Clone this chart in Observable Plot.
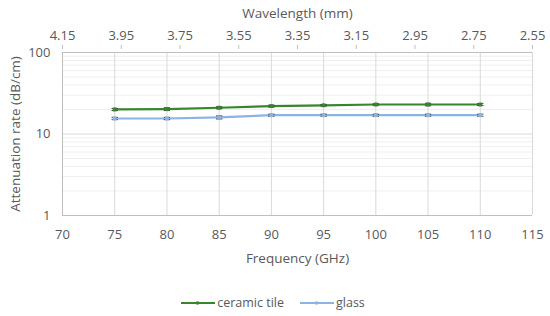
<!DOCTYPE html>
<html><head><meta charset="utf-8">
<script src="https://cdn.jsdelivr.net/npm/d3@7"></script>
<script src="https://cdn.jsdelivr.net/npm/@observablehq/plot@0.6"></script>
<style>
body{margin:0;background:#fff;font-family:"Open Sans",sans-serif;}
#legend{display:flex;justify-content:center;gap:16px;font-size:12.5px;color:#595959;height:31px;align-items:center;margin-left:-4px;margin-top:2px}
#legend span{display:flex;align-items:center;}
</style></head><body>
<div id="chart"></div>
<div id="legend"></div>
<script>
const frequencies = [75, 80, 85, 90, 95, 100, 105, 110];
const ceramicTile = [20, 20.2, 21, 22, 22.5, 23, 23, 23];
const ceramicErr = [0.6, 0.8, 0.6, 0.6, 0.5, 0.5, 0.8, 0.6];
const glass = [15.5, 15.5, 16, 17, 17, 17, 17, 17];
const glassErr = [0.5, 0.5, 0.7, 0.5, 0.5, 0.5, 0.5, 0.5];
const freqTicks = [70, 75, 80, 85, 90, 95, 100, 105, 110, 115];
const wavelengthTicks = [4.15, 3.95, 3.75, 3.55, 3.35, 3.15, 2.95, 2.75, 2.55];
const yMajor = [1, 10, 100];
const yMinor = [2,3,4,5,6,7,8,9,20,30,40,50,60,70,80,90];
const seriesNames = ["ceramic tile", "glass"];
const seriesColors = ["#37862c", "#8db3e2"];

// secondary (wavelength) axis mapped linearly onto frequency range
const wMax = 4.15, wMin = 2.55, fMin = 70, fMax = 115;
const w2f = w => fMin + (wMax - w) * (fMax - fMin) / (wMax - wMin);
const f2w = f => wMax - (f - fMin) * (wMax - wMin) / (fMax - fMin);

const data = [];
frequencies.forEach((f, i) => {
  data.push({series: seriesNames[0], f, v: ceramicTile[i], e: ceramicErr[i]});
  data.push({series: seriesNames[1], f, v: glass[i], e: glassErr[i]});
});

const font = "Open Sans, sans-serif";
const plot = Plot.plot({
  width: 550, height: 285,
  marginLeft: 62, marginRight: 18, marginTop: 52, marginBottom: 70,
  style: {fontFamily: font, fontSize: "12.5px", color: "#595959", background: "#fff"},
  x: {domain: [fMin, fMax], type: "linear"},
  y: {type: "log", domain: [1, 100]},
  color: {domain: seriesNames, range: seriesColors},
  marks: [
    Plot.ruleY(yMinor, {stroke: "#efefef", strokeWidth: 1}),
    Plot.ruleY(yMajor, {stroke: "#d9d9d9", strokeWidth: 1}),
    Plot.ruleX(freqTicks, {stroke: "#d9d9d9", strokeWidth: 1}),
    Plot.ruleX([fMin], {stroke: "#bfbfbf"}),
    Plot.ruleY([1], {stroke: "#bfbfbf"}),
    Plot.ruleY([100], {stroke: "#bfbfbf"}),
    Plot.axisX({ticks: freqTicks, tickSize: 0, tickPadding: 14, label: "Frequency (GHz)", labelAnchor: "center", labelArrow: "none", labelOffset: 47, fontSize: 13, fill: "#595959"}),
    Plot.axisX({anchor: "top", ticks: wavelengthTicks.map(w2f), tickFormat: f => f2w(f).toFixed(2), tickSize: 4, stroke: "#bfbfbf", tickPadding: 5, dy: -4, label: "Wavelength (mm)", labelAnchor: "center", labelArrow: "none", labelOffset: 44, fontSize: 13, fill: "#595959"}),
    Plot.axisY({ticks: yMajor, tickFormat: d => String(d), tickSize: 0, tickPadding: 12, label: "Attenuation rate (dB/cm)", labelAnchor: "center", labelArrow: "none", labelOffset: 52, fontSize: 13, fill: "#595959"}),
    Plot.line(data, {x: "f", y: "v", stroke: "series", strokeWidth: 2.2}),
    Plot.ruleX(data, {x: "f", y1: d => d.v - d.e, y2: d => d.v + d.e, stroke: "#404040", strokeWidth: 1}),
    Plot.link(data, {x1: d => d.f - 0.3, x2: d => d.f + 0.3, y1: d => d.v + d.e, y2: d => d.v + d.e, stroke: "#404040", strokeWidth: 1}),
    Plot.link(data, {x1: d => d.f - 0.3, x2: d => d.f + 0.3, y1: d => d.v - d.e, y2: d => d.v - d.e, stroke: "#404040", strokeWidth: 1}),
    Plot.dot(data, {x: "f", y: "v", fill: "series", symbol: "square", r: 2.2})
  ]
});
plot.querySelectorAll("[aria-label='x-axis label'] text, [aria-label='y-axis label'] text").forEach(t => t.setAttribute("font-size", "13.5px"));
document.getElementById("chart").appendChild(plot);

const legend = document.getElementById("legend");
seriesNames.forEach((name, i) => {
  const s = document.createElement("span");
  s.innerHTML = `<svg width="34" height="8"><line x1="0" y1="4" x2="34" y2="4" stroke="${seriesColors[i]}" stroke-width="2.2"/><rect x="15" y="2.5" width="3" height="3" fill="${seriesColors[i]}"/></svg><span style="margin-left:2px">${name}</span>`;
  legend.appendChild(s);
});
</script>
</body></html>
